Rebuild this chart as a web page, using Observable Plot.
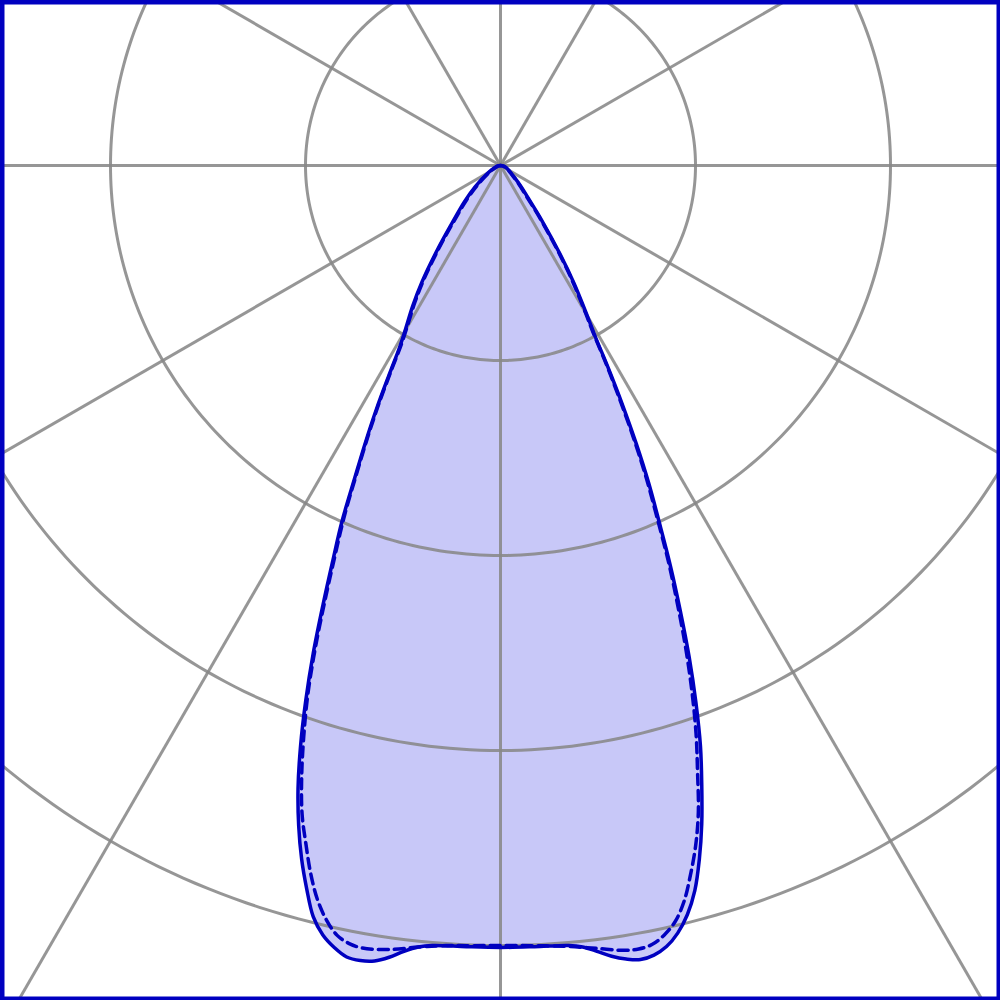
<!DOCTYPE html>
<html><head><meta charset="utf-8">
<script src="https://cdn.jsdelivr.net/npm/d3@7"></script>
<script src="https://cdn.jsdelivr.net/npm/@observablehq/plot@0.6"></script>
<style>html,body{margin:0;padding:0;background:#fff;overflow:hidden;} #chart svg{display:block;}</style>
</head><body><div id="chart"></div>
<script>
// Polar grid
const ringValues = [100, 200, 300, 400, 500, 600];
const spokeAngles = [0, 30, 60, 90, 120, 150, 180, 210, 240, 270, 300, 330];

// Solid curve: angle from nadir (deg, negative = left) and intensity
const solidAngles = [-90,-80,-70,-60,-50,-45,-40,-37,-34,-32,-30,-29,-28,-27,-26,-25,-24,-23,-22,-21,-20,-19,-18,-17,-16,-15,-14,-13,-12,-11,-10,-9,-8,-7,-6,-5,-2.5,0,
  2.5,5,6,7,8,9,10,11,12,13,14,15,16,17,18,19,20,21,22,23,24,25,26,27,28,29,30,32,34,37,40,45,50,60,70,80,90];
const solidValues = [0,1.5,3,7,17,26,39,53,72,85,98,107,122,140,158,177,200,220,243,268,292,315,336,354,370,384,397,405,410,413.5,414,413,410,406,403,401.5,401,401,
  401,401.5,403,406,409.5,412,413.5,412.5,409.5,404,396,385,370,353,334,315,293,270,246,223,200,180,159,138,118,100,89,71,54,35,23,14,9,5,3,1.5,0];

// Dashed curve
const dashAngles = [-90,-80,-70,-60,-50,-45,-40,-37,-34,-32,-30,-29,-28,-27,-26,-25,-24,-23,-22,-21,-20,-19,-18,-17,-16,-15,-14,-13,-12,-11,-10,-8,-6,-4,-2.5,0,
  2.5,5,7,9,10,11,12,13,14,15,16,17,18,19,20,21,22,23,24,25,26,27,28,29,30,32,34,37,40,45,50,60,70,80,90];
const dashValues = [0,1,2.5,6,15,24,37,51,70,83,96,105,120,138,156,175,197,217,240,265,289,310,330,348,362,376,388,397,403.5,406.5,407.5,406,403,401,400.5,400,
  400.5,402,404.5,407.5,408,407,403.5,398,389,376.5,363,347,327,308,287,265,242,220,197,177,156,135,116,98,87,69,52,33,21,13,8,4.5,2.5,1,0];

const rad = Math.PI / 180;
const toXY = (angles, values) => angles.map((a, i) => ({x: values[i] * Math.sin(a * rad), y: -values[i] * Math.cos(a * rad)}));
const solidPts = toXY(solidAngles, solidValues);
const dashPts = toXY(dashAngles, dashValues);

const ringPts = [];
for (const r of ringValues) for (let a = 0; a <= 360; a += 1) ringPts.push({ring: r, x: r * Math.sin(a * rad), y: r * Math.cos(a * rad)});
const spokes = spokeAngles.map(a => ({x: 700 * Math.sin(a * rad), y: 700 * Math.cos(a * rad)}));

const blue = "#0000c0";
const grid = "#888888";

const chart = Plot.plot({
  width: 1000, height: 1000, margin: 0,
  x: {domain: [-500 / 1.95, 500 / 1.95], axis: null},
  y: {domain: [-835 / 1.95, 165 / 1.95], axis: null},
  marks: [
    Plot.line(solidPts, {x: "x", y: "y", fill: "#c8c8f8", stroke: "none", curve: "catmull-rom"}),
    Plot.line(ringPts, {x: "x", y: "y", z: "ring", stroke: grid, strokeOpacity: 0.88, strokeWidth: 3, clip: true}),
    Plot.link(spokes, {x1: d => 0, y1: d => 0, x2: "x", y2: "y", stroke: grid, strokeOpacity: 0.88, strokeWidth: 3, clip: true}),
    Plot.line(dashPts, {x: "x", y: "y", stroke: blue, strokeWidth: 3.5, strokeDasharray: "10,6", curve: "catmull-rom"}),
    Plot.line(solidPts, {x: "x", y: "y", stroke: blue, strokeWidth: 3.5, curve: "catmull-rom"}),
    Plot.frame({stroke: blue, strokeWidth: 8})
  ]
});
document.getElementById("chart").append(chart);
</script>
</body></html>
